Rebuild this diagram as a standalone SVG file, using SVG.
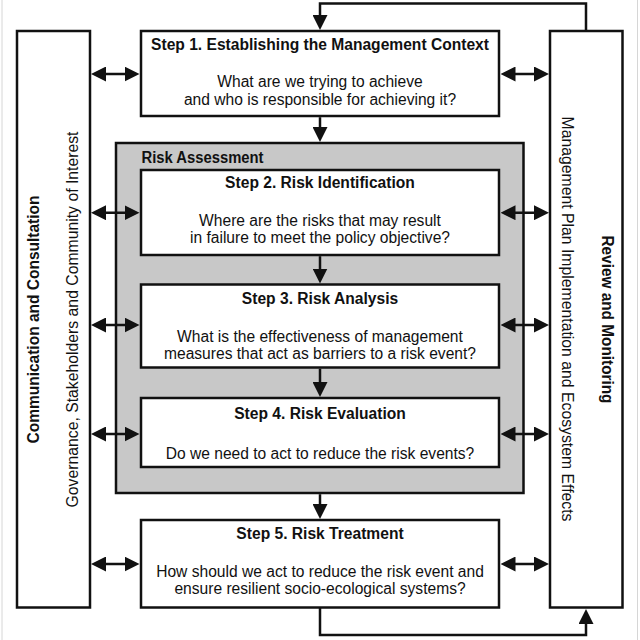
<svg xmlns="http://www.w3.org/2000/svg" width="640" height="640" viewBox="0 0 640 640">
<defs>
<style>
.box{fill:#ffffff;stroke:#111;stroke-width:2.5}
.ra{fill:#c8c8c8;stroke:#111;stroke-width:2.5}
.con{fill:none;stroke:#111;stroke-width:2.5}
.two{fill:none;stroke:#111;stroke-width:2.5;marker-start:url(#ah);marker-end:url(#ah)}
.one{fill:none;stroke:#111;stroke-width:2.5;marker-end:url(#ah)}
text{font-family:"Liberation Sans",Arial,sans-serif;font-size:15.6px;fill:#111}
.t{font-weight:bold;text-anchor:middle}
.b{text-anchor:middle}
.bold{font-weight:bold}
</style>
<marker id="ah" markerUnits="userSpaceOnUse" markerWidth="15" markerHeight="15" refX="11" refY="7.5" orient="auto-start-reverse" viewBox="0 0 15 15">
<path d="M0,0 L15,7.5 L0,15 Z" fill="#111"/>
</marker>
</defs>
<rect width="640" height="640" fill="#ffffff"/>
<line x1="2" y1="0" x2="2" y2="640" stroke="#d6d6d6" stroke-width="1"/>
<line x1="637.5" y1="0" x2="637.5" y2="640" stroke="#d6d6d6" stroke-width="1"/>

<g id="communication">
<rect class="box" x="17" y="31" width="73" height="576.5"/>
<text class="t" transform="translate(39,319.5) rotate(-90)" textLength="248" lengthAdjust="spacingAndGlyphs">Communication and Consultation</text>
<text class="b" transform="translate(77.5,319.5) rotate(-90)" textLength="376" lengthAdjust="spacingAndGlyphs">Governance, Stakeholders and Community of Interest</text>
</g>

<g id="review">
<rect class="box" x="550" y="31" width="72.5" height="576.5"/>
<text class="t" transform="translate(601.5,319.5) rotate(90)" textLength="168" lengthAdjust="spacingAndGlyphs">Review and Monitoring</text>
<text class="b" transform="translate(562,319) rotate(90)" textLength="405" lengthAdjust="spacingAndGlyphs">Management Plan Implementation and Ecosystem Effects</text>
</g>

<g id="step1">
<rect class="box" x="141" y="31" width="358" height="85"/>
<text class="t" x="320" y="49.5">Step 1. Establishing the Management Context</text>
<text class="b" x="320" y="86.5">What are we trying to achieve</text>
<text class="b" x="320" y="104.5">and who is responsible for achieving it?</text>
</g>

<g id="risk-assessment">
<rect class="ra" x="116" y="143" width="407.5" height="350"/>
<text class="bold" x="141.5" y="162.5" font-size="14.7" textLength="122" lengthAdjust="spacingAndGlyphs">Risk Assessment</text>
</g>

<g id="step2">
<rect class="box" x="141" y="170" width="358" height="85"/>
<text class="t" x="320" y="188">Step 2. Risk Identification</text>
<text class="b" x="320" y="225.5">Where are the risks that may result</text>
<text class="b" x="320" y="243">in failure to meet the policy objective?</text>
</g>

<g id="step3">
<rect class="box" x="141" y="284.5" width="358" height="83"/>
<text class="t" x="320" y="304">Step 3. Risk Analysis</text>
<text class="b" x="320" y="341.5">What is the effectiveness of management</text>
<text class="b" x="320" y="359.3">measures that act as barriers to a risk event?</text>
</g>

<g id="step4">
<rect class="box" x="141" y="398" width="358" height="69"/>
<text class="t" x="320" y="419">Step 4. Risk Evaluation</text>
<text class="b" x="320" y="459">Do we need to act to reduce the risk events?</text>
</g>

<g id="step5">
<rect class="box" x="141" y="520" width="358" height="87.5"/>
<text class="t" x="320" y="539">Step 5. Risk Treatment</text>
<text class="b" x="320" y="576.7">How should we act to reduce the risk event and</text>
<text class="b" x="320" y="594.3">ensure resilient socio-ecological systems?</text>
</g>

<g id="connectors">
<path class="one" d="M586,31 V3.5 H320 V26"/>
<path class="one" d="M320,607.5 V635 H586 V613"/>
<line class="one" x1="320" y1="117.2" x2="320" y2="138"/>
<line class="one" x1="320" y1="256.2" x2="320" y2="279.5"/>
<line class="one" x1="320" y1="368.7" x2="320" y2="393"/>
<line class="one" x1="320" y1="494.2" x2="320" y2="515"/>
<line class="two" x1="95" y1="74" x2="135.5" y2="74"/>
<line class="two" x1="95" y1="212.7" x2="135.5" y2="212.7"/>
<line class="two" x1="95" y1="325" x2="135.5" y2="325"/>
<line class="two" x1="95" y1="434" x2="135.5" y2="434"/>
<line class="two" x1="95" y1="564" x2="135.5" y2="564"/>
<line class="two" x1="504.5" y1="74" x2="545" y2="74"/>
<line class="two" x1="504.5" y1="212.7" x2="545" y2="212.7"/>
<line class="two" x1="504.5" y1="325" x2="545" y2="325"/>
<line class="two" x1="504.5" y1="434" x2="545" y2="434"/>
<line class="two" x1="504.5" y1="564" x2="545" y2="564"/>
</g>
</svg>
